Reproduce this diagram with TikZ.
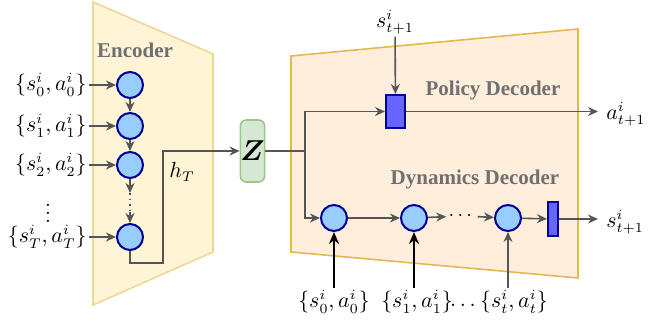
\documentclass[tikz,border=0pt]{standalone}
\usepackage{amsmath,bm}
\usepackage{fontspec}
\newfontfamily\headfont{Liberation Serif}
\usetikzlibrary{arrows.meta}
\definecolor{encfill}{HTML}{FFF4D6}
\definecolor{encline}{HTML}{EDD794}
\definecolor{decfill}{HTML}{FFEEDC}
\definecolor{decline}{HTML}{E3B94E}
\definecolor{cellfill}{HTML}{99CCFF}
\definecolor{cellline}{HTML}{000099}
\definecolor{gatefill}{HTML}{6666FF}
\definecolor{zfill}{HTML}{D5E8D4}
\definecolor{zline}{HTML}{9CC68A}
\definecolor{linegray}{HTML}{555555}
\definecolor{headgray}{HTML}{707070}

\begin{document}
\begin{tikzpicture}[
    x=0.5pt, y=-0.5pt,
    cell/.style = {draw=cellline, fill=cellfill, circle, line width=1pt, minimum size=13pt, inner sep=0pt},
    gate/.style = {draw=cellline, fill=gatefill, rectangle, line width=1pt, inner sep=0pt},
    lab/.style = {font=\fontsize{10.5}{12}\selectfont, inner sep=1pt},
    head/.style = {font=\headfont\bfseries\fontsize{10.5}{12}\selectfont, text=headgray},
    link/.style = {draw=linegray, line width=0.8pt},
    arr/.style = {link, -{Stealth[length=5pt,width=4.5pt]}},
    feed/.style = {draw=black, line width=1.2pt, -{Stealth[length=6pt,width=5pt]}}
]
    \useasboundingbox (0,0) rectangle (671,321);

    % --- Fonds (encodeur, decodeur) ---
    \filldraw[fill=encfill, draw=encline, line width=0.8pt] (93,2) -- (213,54) -- (213,252) -- (93,305) -- cycle;
    \filldraw[fill=decfill, draw=decline, line width=0.8pt] (291,56) -- (578,29) -- (578,278) -- (291,252) -- cycle;

    \node[head] (enc) at (135,50) {Encoder};
    \node[head] (pdec) at (493,90) {Policy Decoder};
    \node[head] (ddec) at (475,179) {Dynamics Decoder};

    % --- Encodeur ---
    \node[cell] (e1) at (130,85) {};
    \node[cell] (e2) at (130,126) {};
    \node[cell] (e3) at (130,165) {};
    \node[cell] (e4) at (130,237) {};

    \node[lab, anchor=east] (in0) at (89,85) {$\{s_0^i, a_0^i\}$};
    \node[lab, anchor=east] (in1) at (89,126) {$\{s_1^i, a_1^i\}$};
    \node[lab, anchor=east] (in2) at (89,165) {$\{s_2^i, a_2^i\}$};
    \node[lab] (vd) at (48,207) {$\vdots$};
    \node[lab, anchor=east] (inT) at (89,237) {$\{s_T^i, a_T^i\}$};

    \draw[arr] (in0) -- (e1);
    \draw[arr] (in1) -- (e2);
    \draw[arr] (in2) -- (e3);
    \draw[arr] (inT) -- (e4);

    \coordinate (g1) at (130,193);
    \coordinate (g2) at (130,212);
    \draw[arr] (e1) -- (e2);
    \draw[arr] (e2) -- (e3);
    \draw[arr] (e3) -- (g1);
    \draw[link, dotted] (g1) -- (g2);
    \draw[arr] (g2) -- (e4);

    % --- Variable latente ---
    \node[draw=zline, fill=zfill, rounded corners=3pt, line width=0.8pt,
          minimum width=11.5pt, minimum height=31pt, inner sep=0pt,
          font=\fontsize{14}{16}\selectfont] (z) at (252.5,151) {$\bm{Z}$};
    \coordinate (hb) at (163,263);
    \draw[arr] (e4.south) |- (hb) |- (z.west);
    \node[lab] (hT) at (182,172) {$h_T$};

    \coordinate (split) at (305,151);
    \draw[link] (z) -- (split);

    % --- Decodeur de politique ---
    \node[gate, minimum width=9.5pt, minimum height=16.5pt] (pol) at (395.5,111.5) {};
    \node[lab] (sin) at (395,22) {$s_{t+1}^i$};
    \node[lab, anchor=west] (aout) at (604,114) {$a_{t+1}^i$};
    \draw[arr] (split) |- (pol);
    \draw[arr] (sin) -- (pol);
    \draw[arr, shorten >=3pt] (pol) -- (pol -| aout.west);

    % --- Decodeur de dynamique ---
    \node[cell] (d1) at (334,218) {};
    \node[cell] (d2) at (414,218) {};
    \node[inner sep=1pt] (dd) at (462,216) {$\cdots$};
    \node[cell] (d3) at (508,218) {};
    \node[gate, minimum width=5pt, minimum height=17pt] (dyn) at (553,219) {};
    \node[lab, anchor=west] (sout) at (604,222) {$s_{t+1}^i$};

    \draw[arr] (split) |- (d1);
    \draw[arr] (d1) -- (d2);
    \draw[arr] (d2) -- (dd);
    \draw[arr] (dd) -- (d3);
    \draw[arr] (d3) -- (dyn);
    \draw[arr, shorten >=3pt] (dyn) -- (dyn -| sout.west);

    \node[lab] (b0) at (334,302) {$\{s_0^i, a_0^i\}$};
    \node[lab] (b1) at (417,302) {$\{s_1^i, a_1^i\}$};
    \node[lab] (bd) at (463,305) {$\ldots$};
    \node[lab] (bt) at (514,302) {$\{s_t^i, a_t^i\}$};

    \draw[feed] (b0.north -| d1) -- (d1);
    \draw[feed] (b1.north -| d2) -- (d2);
    \draw[arr] (bt.north -| d3) -- (d3);
\end{tikzpicture}
\end{document}
